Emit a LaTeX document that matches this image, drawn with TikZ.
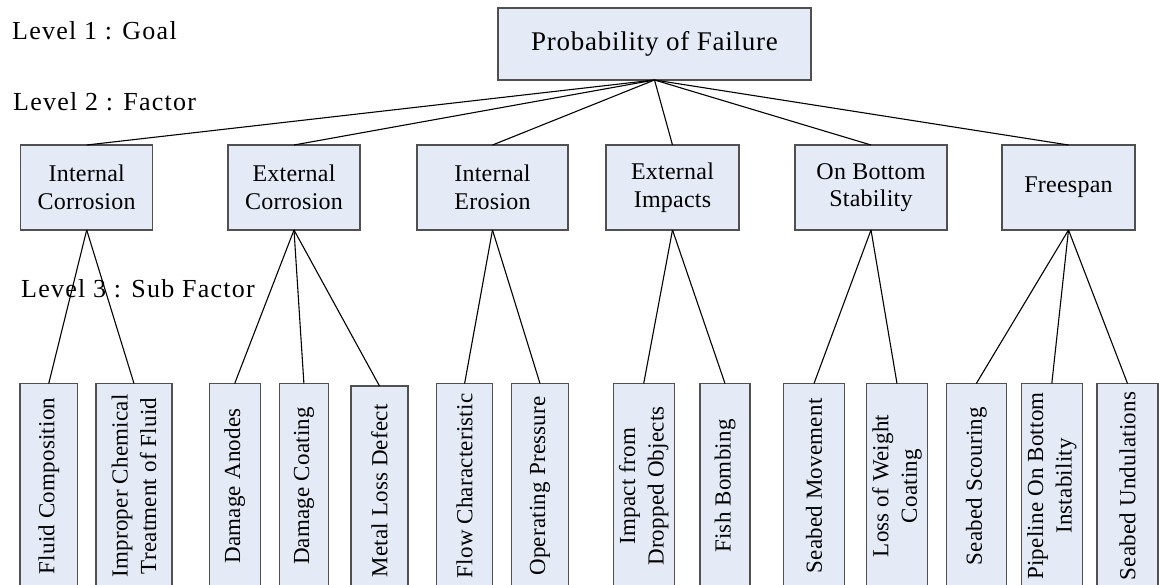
\documentclass[tikz,border=0pt]{standalone}
\usepackage{fontspec}
\setmainfont{Liberation Serif}
\definecolor{boxfill}{RGB}{228,235,247}
\definecolor{boxline}{RGB}{80,80,80}
\tikzset{
  box/.style={draw=boxline, fill=boxfill, line width=1.1pt, inner sep=0pt, outer sep=0pt, align=center, rectangle},
  goalbox/.style={box, minimum width=313pt, minimum height=72pt, font=\fontsize{27}{31}\selectfont\addfontfeature{LetterSpace=2.8}},
  factorbox/.style={box, minimum height=85pt, font=\fontsize{24}{27.6}\selectfont\addfontfeature{LetterSpace=1}},
  subbox/.style={box, minimum height=205pt},
  subtext/.style={rotate=90, align=center, font=\fontsize{23}{28.5}\selectfont\addfontfeature{LetterSpace=1}, inner sep=0pt},
  conn/.style={line width=1.1pt, black},
  levellabel/.style={anchor=base west, inner sep=0pt, font=\fontsize{26}{30}\selectfont\addfontfeature{LetterSpace=4.8}}
}
\begin{document}
\begin{tikzpicture}[x=1pt,y=-1pt]
\useasboundingbox (0,0) rectangle (1159,585);
\clip (0,0) rectangle (1159,585);
% Level 1
\node[goalbox] (goal) at (654.5,44) {Probability of Failure};
% Level 2
\node[factorbox, minimum width=132pt] (ic) at (86.7,187.5) {Internal\\Corrosion};
\node[factorbox, minimum width=132pt] (ec) at (294,187.5) {External\\Corrosion};
\node[factorbox, minimum width=151pt] (ie) at (492.5,187.5) {Internal\\Erosion};
\node[factorbox, minimum width=133pt] (ei) at (672.5,187.5) {External\\Impacts};
\node[factorbox, minimum width=152pt] (obs) at (871,187.5) {On Bottom\\Stability};
\node[factorbox, minimum width=133pt] (fs) at (1068.5,187.5) {Freespan};
% Level 3 boxes
\node[subbox, minimum width=57.5pt] (fc) at (48.75,486) {};
\node[subbox, minimum width=76pt] (im) at (134,486) {};
\node[subbox, minimum width=51pt] (da) at (234.7,486) {};
\node[subbox, minimum width=49pt] (dc) at (303.9,486) {};
\node[subbox, minimum width=57pt] (ml) at (379.5,488.5) {};
\node[subbox, minimum width=56.6pt] (fl) at (464.6,486) {};
\node[subbox, minimum width=56.6pt] (op) at (540,486) {};
\node[subbox, minimum width=61pt] (id) at (643.7,486) {};
\node[subbox, minimum width=50pt] (fb) at (725,486) {};
\node[subbox, minimum width=61pt] (sm) at (814,486) {};
\node[subbox, minimum width=61pt] (lw) at (897,486) {};
\node[subbox, minimum width=60.5pt] (ss) at (976.3,486) {};
\node[subbox, minimum width=61pt] (pb) at (1051.8,486) {};
\node[subbox, minimum width=61pt] (su) at (1127.5,486) {};
% Level 3 texts
\node[subtext] (tfc) at (fc.center) {Fluid Composition};
\node[subtext] (tim) at (im.center) {Improper Chemical\\Treatment of Fluid};
\node[subtext] (tda) at (da.center) {Damage Anodes};
\node[subtext] (tdc) at (dc.center) {Damage Coating};
\node[subtext] (tml) at ([yshift=-2.5pt]ml.center) {Metal Loss Defect};
\node[subtext] (tfl) at (fl.center) {Flow Characteristic};
\node[subtext] (top) at (op.center) {Operating Pressure};
\node[subtext] (tid) at (id.center) {Impact from\\Dropped Objects};
\node[subtext] (tfb) at (fb.center) {Fish Bombing};
\node[subtext] (tsm) at (sm.center) {Seabed Movement};
\node[subtext] (tlw) at (lw.center) {Loss of Weight\\Coating};
\node[subtext] (tss) at (ss.center) {Seabed Scouring};
\node[subtext] (tpb) at (pb.center) {Pipeline On Bottom\\Instability};
\node[subtext] (tsu) at (su.center) {Seabed Undulations};
% connectors level 1 -> 2
\foreach \n in {ic,ec,ie,ei,obs,fs} \draw[conn] (goal.south) -- (\n.north);
% connectors level 2 -> 3
\draw[conn] (ic.south) -- (fc.north);
\draw[conn] (ic.south) -- (im.north);
\draw[conn] (ec.south) -- (da.north);
\draw[conn] (ec.south) -- (dc.north);
\draw[conn] (ec.south) -- (ml.north);
\draw[conn] (ie.south) -- (fl.north);
\draw[conn] (ie.south) -- (op.north);
\draw[conn] (ei.south) -- (id.north);
\draw[conn] (ei.south) -- (fb.north);
\draw[conn] (obs.south) -- (sm.north);
\draw[conn] (obs.south) -- (lw.north);
\draw[conn] (fs.south) -- (ss.north);
\draw[conn] (fs.south) -- (pb.north);
\draw[conn] (fs.south) -- (su.north);
% level labels
\node[levellabel] (l1) at (12,40) {Level 1 : Goal};
\node[levellabel] (l2) at (13,111) {Level 2 : Factor};
\node[levellabel] (l3) at (21,298) {Level 3 : Sub Factor};
\end{tikzpicture}
\end{document}
